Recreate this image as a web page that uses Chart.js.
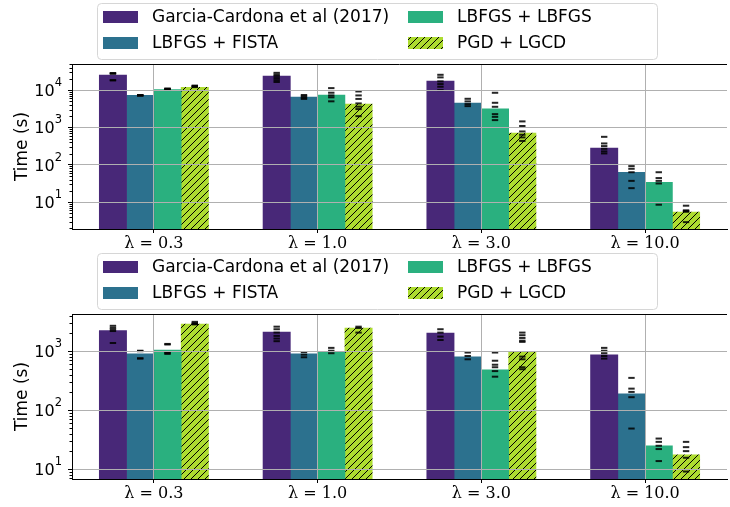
<!DOCTYPE html>
<html>
<head>
<meta charset="utf-8">
<script src="https://cdn.jsdelivr.net/npm/chart.js@4"></script>
<style>
  html, body { margin: 0; padding: 0; background: #fff; overflow: hidden; }
  #wrap { width: 730px; height: 507px; overflow: hidden; }
  canvas { display: block; }
</style>
</head>
<body>
<div id="wrap">
  <canvas id="topChart" width="733" height="250"></canvas>
  <canvas id="bottomChart" width="733" height="257"></canvas>
</div>
<script>
// categories and series
const lambdas = ['λ = 0.3', 'λ = 1.0', 'λ = 3.0', 'λ = 10.0'];
const methods = ['Garcia-Cardona et al (2017)', 'LBFGS + FISTA', 'LBFGS + LBFGS', 'PGD + LGCD'];
const colors = ['#482878', '#2c718e', '#2ab07f', '#addc30'];

// top panel: bar heights (s)
const topGarcia = [25300, 23700, 17400, 279];
const topFista = [7220, 6500, 4470, 63];
const topLbfgs = [10400, 7350, 3160, 34];
const topLgcd = [11800, 4200, 703, 5.4];
// top panel: individual runs, one list per lambda
const topGarciaRuns = [[28600, 28000, 27500, 18500, 18200], [29000, 26000, 24000, 21000, 18500, 16500], [25700, 21900, 17100, 14500, 12300, 10000], [560, 372, 316, 267, 228, 201]];
const topFistaRuns = [[7400, 7250, 7200, 7100], [7400, 6800, 6300, 5800], [5850, 4980, 4210, 3720], [92, 78, 63, 37, 23.6]];
const topLbfgsRuns = [[11000, 10800, 10600, 10300], [11300, 8500, 7200, 6400, 5000], [8470, 4570, 3570, 2270, 1920, 1570], [63, 44, 37, 31.5, 8.5]];
const topLgcdRuns = [[13200, 12800, 12500, 12000], [9200, 7200, 5800, 4400, 3600, 3100, 2000], [1450, 1090, 780, 635, 540, 435], [8, 6, 5.8, 5.5, 2.9]];

// bottom panel
const botGarcia = [2230, 2120, 2040, 865];
const botFista = [900, 900, 800, 189];
const botLbfgs = [1050, 985, 482, 24.8];
const botLgcd = [2900, 2480, 985, 17.5];
const botGarciaRuns = [[2700, 2500, 2350, 2200, 1380], [2610, 2360, 2070, 1820, 1640, 1480], [2360, 2070, 1770, 1550], [1140, 1020, 925, 830, 750]];
const botFistaRuns = [[1020, 1000, 760, 750], [970, 875, 790], [950, 830, 730], [353, 232, 204, 166, 48.8]];
const botLbfgsRuns = [[1330, 1300, 970, 930, 900], [1140, 1020, 925], [950, 690, 590, 535, 460, 370], [33, 29, 24.9, 21.9, 13.7]];
const botLgcdRuns = [[3150, 3000, 2900, 2850], [2610, 2480, 2070], [2070, 1870, 1680, 1510, 1440, 810, 730, 535, 495], [29, 23.6, 20.2, 15.6, 9.1]];

// y tick values
const topTicks = [10, 100, 1000, 10000];
const botTicks = [10, 100, 1000];

// hatch "//" for PGD + LGCD
function makeHatch(color) {
  const c = document.createElement('canvas');
  c.width = 7; c.height = 7;
  const g = c.getContext('2d');
  g.fillStyle = color;
  g.fillRect(0, 0, 7, 7);
  g.strokeStyle = '#000';
  g.lineWidth = 1;
  g.beginPath();
  g.moveTo(-1, 8); g.lineTo(8, -1);
  g.moveTo(-1, 1); g.lineTo(1, -1);
  g.moveTo(6, 8); g.lineTo(8, 6);
  g.stroke();
  return g.createPattern(c, 'repeat');
}
const hatch = makeHatch(colors[3]);
const fills = [colors[0], colors[1], colors[2], hatch];

// legend drawn like matplotlib (2 columns)
const legendPlugin = {
  id: 'mplLegend',
  afterDraw(chart) {
    const ctx = chart.ctx;
    ctx.save();
    ctx.beginPath();
    ctx.roundRect(97.5, 3.5, 560, 56, 4);
    ctx.fillStyle = 'rgba(255,255,255,0.8)';
    ctx.fill();
    ctx.strokeStyle = '#d6d6d6';
    ctx.lineWidth = 1;
    ctx.stroke();
    const cols = [103, 408];
    const rows = [17, 43];
    ctx.font = '17px "DejaVu Sans"';
    ctx.textBaseline = 'middle';
    methods.forEach((name, i) => {
      const x = cols[Math.floor(i / 2)];
      const y = rows[i % 2];
      ctx.fillStyle = fills[i];
      ctx.fillRect(x, y - 6, 35, 12);
      ctx.fillStyle = '#000';
      ctx.fillText(name, x + 49, y + 1);
    });
    ctx.restore();
  }
};

// top spine, minor log ticks, 10^n labels with real superscripts
const framePlugin = {
  id: 'frame',
  afterDraw(chart) {
    const ctx = chart.ctx;
    const a = chart.chartArea;
    const y = chart.scales.y;
    ctx.save();
    ctx.strokeStyle = '#000';
    ctx.lineWidth = 1;
    ctx.beginPath();
    ctx.moveTo(a.left, a.top + 0.5);
    ctx.lineTo(a.right, a.top + 0.5);
    for (let d = -1; d <= 5; d++) {
      for (let k = 2; k <= 9; k++) {
        const v = k * Math.pow(10, d);
        if (v < y.min || v > y.max) continue;
        const p = Math.round(y.getPixelForValue(v)) + 0.5;
        ctx.moveTo(a.left - 2.5, p);
        ctx.lineTo(a.left, p);
      }
    }
    ctx.stroke();

    ctx.fillStyle = '#000';
    ctx.textAlign = 'right';
    ctx.textBaseline = 'alphabetic';
    y.ticks.forEach(t => {
      const p = y.getPixelForValue(t.value);
      const e = String(Math.round(Math.log10(t.value)));
      ctx.font = '11.5px "DejaVu Sans"';
      const ew = ctx.measureText(e).width;
      ctx.fillText(e, a.left - 10, p - 4);
      ctx.font = '16px "DejaVu Sans"';
      ctx.fillText('10', a.left - 10 - ew, p + 6);
    });
    ctx.restore();
  }
};

function makeChart(id, series, runs, yMin, yMax, ticks, xHeight) {
  const datasets = series.map((s, m) => ({
    type: 'bar',
    label: methods[m],
    data: s.map((v, g) => ({ x: g + (m - 1.5) / 6, y: v })),
    backgroundColor: fills[m],
    borderWidth: 0,
    grouped: false,
    categoryPercentage: 1,
    barPercentage: 1,
    order: 2
  }));
  runs.forEach((r, m) => {
    const pts = [];
    r.forEach((vals, g) => vals.forEach(v => pts.push({ x: g + (m - 1.5) / 6, y: v })));
    datasets.push({
      type: 'scatter',
      data: pts,
      pointStyle: 'line',
      radius: 3.2,
      borderWidth: 2,
      borderColor: 'rgba(0,0,0,0.85)',
      backgroundColor: 'rgba(0,0,0,0.85)',
      order: 1
    });
  });

  return new Chart(document.getElementById(id), {
    data: { datasets: datasets },
    plugins: [legendPlugin, framePlugin],
    options: {
      responsive: false,
      animation: false,
      devicePixelRatio: 1,
      layout: { padding: { top: 64, right: 2, left: 0, bottom: 0 } },
      plugins: { legend: { display: false }, tooltip: { enabled: false } },
      scales: {
        x: {
          type: 'linear',
          min: -0.5,
          max: 3.5,
          offset: false,
          grid: { offset: false, color: '#b0b0b0', tickColor: '#000', tickLength: 4, z: 1 },
          border: { color: '#000', width: 1, z: 2 },
          ticks: {
            color: '#000',
            font: { family: 'DejaVu Serif', size: 16 },
            padding: 1,
            maxRotation: 0,
            autoSkip: false,
            callback: (v) => lambdas[v]
          },
          afterBuildTicks(scale) { scale.ticks = lambdas.map((l, i) => ({ value: i })); },
          afterFit(scale) { scale.height = xHeight; }
        },
        y: {
          type: 'logarithmic',
          min: yMin,
          max: yMax,
          grid: { color: '#b0b0b0', tickColor: '#000', tickLength: 4, z: 1 },
          border: { color: '#000', width: 1, z: 2 },
          ticks: { display: false, autoSkip: false },
          afterBuildTicks(scale) { scale.ticks = ticks.map(v => ({ value: v })); },
          title: {
            display: true,
            text: 'Time (s)',
            color: '#000',
            font: { family: 'DejaVu Sans', size: 17 },
            padding: { top: 12, bottom: 0 }
          },
          afterFit(scale) { scale.width = 72; }
        }
      }
    }
  });
}

makeChart('topChart', [topGarcia, topFista, topLbfgs, topLgcd],
  [topGarciaRuns, topFistaRuns, topLbfgsRuns, topLgcdRuns], 1.9, 50000, topTicks, 21);
makeChart('bottomChart', [botGarcia, botFista, botLbfgs, botLgcd],
  [botGarciaRuns, botFistaRuns, botLbfgsRuns, botLgcdRuns], 6.8, 4280, botTicks, 28);
</script>
</body>
</html>
